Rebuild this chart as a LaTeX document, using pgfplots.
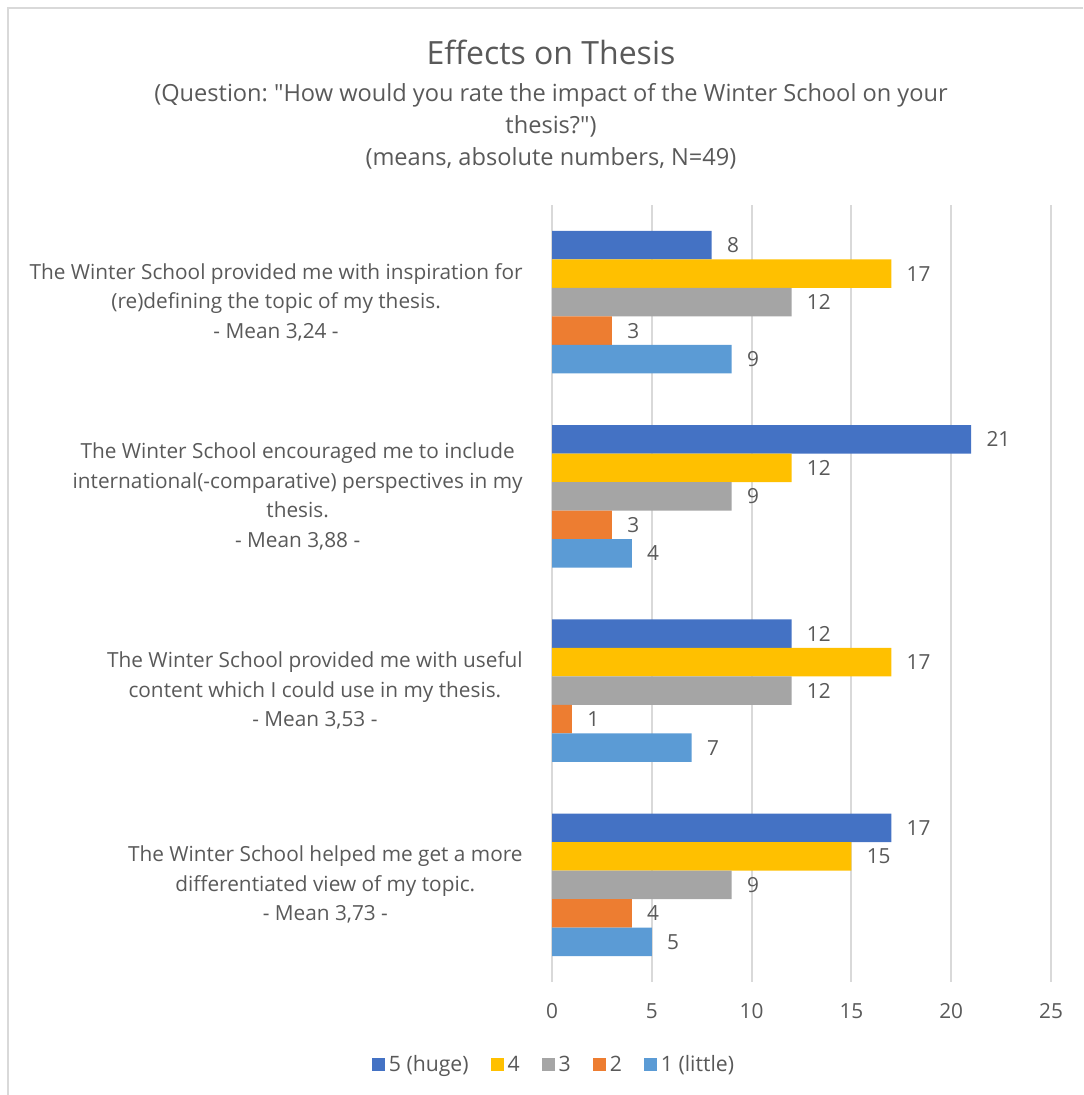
\documentclass[border=0pt]{standalone}
\usepackage{fontspec}
\setmainfont{Open Sans}[Ligatures=TeXOff]
\usepackage{pgfplots}
\pgfplotsset{compat=1.18}
\definecolor{cA}{HTML}{4472C4}
\definecolor{cB}{HTML}{FFC000}
\definecolor{cC}{HTML}{A5A5A5}
\definecolor{cD}{HTML}{ED7D31}
\definecolor{cE}{HTML}{5B9BD5}
\definecolor{txt}{HTML}{595959}
\definecolor{grd}{HTML}{D9D9D9}
\frenchspacing
\begin{document}
\frenchspacing
\begin{tikzpicture}
\path[use as bounding box] (0,0) rectangle (541.5pt,547.5pt);
\draw[grd, line width=0.75pt] (4pt,0) -- (4pt,543.5pt) -- (541.5pt,543.5pt);
\node[anchor=base, text=txt, font=\fontsize{16}{19}\selectfont] at (275.5pt,515pt) {Effects on Thesis};
\node[anchor=base, text=txt, font=\fontsize{11.8}{16}\selectfont] at (275.5pt,496.5pt) {(Question: "How would you rate the impact of the Winter School on your};
\node[anchor=base, text=txt, font=\fontsize{11.8}{16}\selectfont] at (275.5pt,480.5pt) {thesis?")};
\node[anchor=base, text=txt, font=\fontsize{11.8}{16}\selectfont] at (275.5pt,464.5pt) {(means, absolute numbers, N=49)};
\begin{axis}[
  at={(276pt,56.5pt)}, anchor=south west,
  scale only axis, width=249.5pt, height=388.5pt,
  xbar, bar width=0.1467,
  xmin=0, xmax=25, ymin=-0.5, ymax=3.5,
  xtick={0,5,10,15,20,25},
  ytick={0,1,2,3},
  yticklabels={
    {The Winter School helped me get a more\\differentiated view of my topic.\\- Mean 3,73 -},
    {The Winter School provided me with useful\\content which I could use in my thesis.\\- Mean 3,53 -},
    {The Winter School encouraged me to include\\international(-comparative) perspectives in my\\thesis.\\- Mean 3,88 -},
    {The Winter School provided me with inspiration for\\(re)defining the topic of my thesis.\\- Mean 3,24 -}},
  axis line style={draw=none},
  major tick length=0pt,
  xmajorgrids, grid style={grd, line width=1pt},
  /pgf/number format/assume math mode=true,
  tick label style={text=txt, font=\fontsize{10.4}{14.75}\selectfont},
  yticklabel style={align=center, inner sep=0pt, xshift=-14.5pt},
  xticklabel style={inner sep=0pt, yshift=-10.5pt},
  nodes near coords, point meta=x,
  nodes near coords style={text=txt, font=\fontsize{10.4}{14.75}\selectfont, anchor=west, inner sep=0pt, xshift=7.5pt},
  legend columns=-1,
  legend style={draw=none, at={(0.006,-0.1068)}, anchor=center, text=txt, font=\fontsize{10.6}{14}\selectfont,
    /tikz/every even column/.append style={column sep=9pt}},
  legend image code/.code={\fill[#1] (0pt,-3.25pt) rectangle (6.5pt,3.25pt);},
]
\addplot[fill=cA, draw=none, bar shift=0.2934] coordinates {(8,3) (21,2) (12,1) (17,0)};
\addlegendentry{5 (huge)}
\addplot[fill=cB, draw=none, bar shift=0.1467] coordinates {(17,3) (12,2) (17,1) (15,0)};
\addlegendentry{4}
\addplot[fill=cC, draw=none, bar shift=0] coordinates {(12,3) (9,2) (12,1) (9,0)};
\addlegendentry{3}
\addplot[fill=cD, draw=none, bar shift=-0.1467] coordinates {(3,3) (3,2) (1,1) (4,0)};
\addlegendentry{2}
\addplot[fill=cE, draw=none, bar shift=-0.2934] coordinates {(9,3) (4,2) (7,1) (5,0)};
\addlegendentry{1 (little)}
\end{axis}
\end{tikzpicture}
\end{document}
